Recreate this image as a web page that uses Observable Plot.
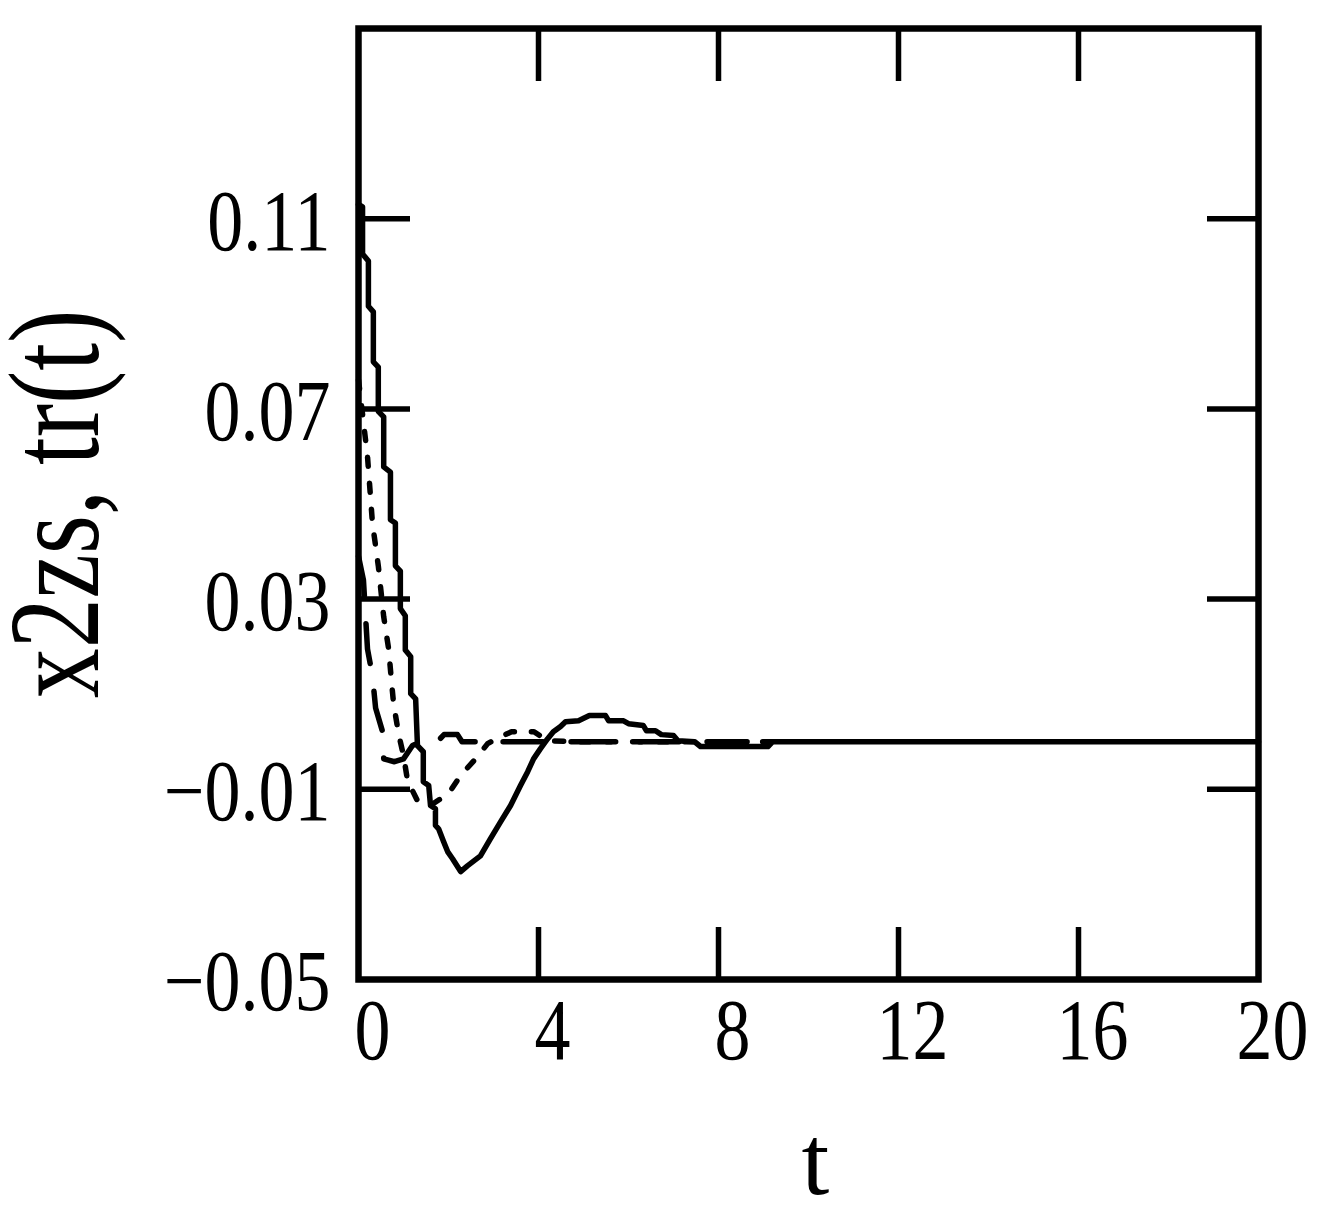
<!DOCTYPE html>
<html>
<head>
<meta charset="utf-8">
<script src="https://cdn.jsdelivr.net/npm/d3@7"></script>
<script src="https://cdn.jsdelivr.net/npm/@observablehq/plot@0.6"></script>
<style>
  html, body { margin: 0; padding: 0; background: white; }
</style>
</head>
<body>
<div id="chart"></div>
<script>
// Solid curve x2zs(t): vertices
const solidT = [0.00, 0.09, 0.09, 0.22, 0.22, 0.33, 0.33, 0.44, 0.44, 0.56, 0.56, 0.71, 0.71, 0.82, 0.82, 0.93, 0.93, 1.04, 1.04, 1.16, 1.16, 1.27, 1.31, 1.44, 1.44, 1.56, 1.60, 1.71, 1.71, 1.78, 1.89, 1.98, 2.09, 2.27, 2.42, 2.71, 2.93, 3.16, 3.38, 3.60, 3.76, 3.89, 4.04, 4.20, 4.33, 4.49, 4.60, 4.89, 5.13, 5.49, 5.56, 5.89, 6.00, 6.33, 6.40, 6.60, 6.73, 7.00, 7.10, 7.47, 7.60, 9.10, 9.20, 20.0];
const solidV = [0.1130, 0.1125, 0.1026, 0.1011, 0.0916, 0.0904, 0.0799, 0.0788, 0.0695, 0.0683, 0.0578, 0.0567, 0.0467, 0.0460, 0.0370, 0.0359, 0.0280, 0.0265, 0.0193, 0.0179, 0.0101, 0.0090, -0.0008, -0.0021, -0.0084, -0.0092, -0.0134, -0.0141, -0.0176, -0.0183, -0.0210, -0.0231, -0.0246, -0.0273, -0.0261, -0.0240, -0.0204, -0.0168, -0.0134, -0.0092, -0.0063, -0.0036, -0.0015, 0.0006, 0.0021, 0.0032, 0.0042, 0.0044, 0.0055, 0.0055, 0.0044, 0.0044, 0.0038, 0.0034, 0.0023, 0.0023, 0.0015, 0.0013, 0.0002, 0.0000, -0.0010, -0.0010, 0.0000, 0.0000];

// Short-dashed curve
const dotT = [0.00, 0.20, 0.31, 0.44, 0.56, 0.67, 0.73, 0.78, 0.89, 1.00, 1.09, 1.31, 1.60, 2.00, 2.27, 2.60, 2.87, 3.10, 3.40, 3.90, 4.20, 5.00, 9.20];
const dotV = [0.0761, 0.0600, 0.0460, 0.0370, 0.0263, 0.0195, 0.0130, 0.0080, 0.0017, -0.0029, -0.0082, -0.0124, -0.0134, -0.0109, -0.0071, -0.0036, -0.0004, 0.0008, 0.0021, 0.0021, 0.0002, 0.0000, 0.0000];

// Long-dashed curve
const dashT = [0.00, 0.11, 0.20, 0.31, 0.38, 0.56, 0.56, 0.80, 1.00, 1.20, 1.40, 1.75, 1.90, 2.20, 2.30, 9.20];
const dashV = [0.0390, 0.0340, 0.0195, 0.0139, 0.0071, 0.0013, -0.0036, -0.0042, -0.0036, -0.0008, 0.0000, 0.0000, 0.0015, 0.0015, 0.0000, 0.0000];

// Axes
const xTickLabels = [0, 4, 8, 12, 16, 20];
const xInnerTicks = [4, 8, 12, 16];
const yTickLabels = [-0.05, -0.01, 0.03, 0.07, 0.11];
const yInnerTicks = [-0.01, 0.03, 0.07, 0.11];
const xTitle = "t";
const yTitle = "x2zs, tr(t)";

const solid = solidT.map((t, i) => ({t, v: solidV[i]}));
const dotted = dotT.map((t, i) => ({t, v: dotV[i]}));
const dashed = dashT.map((t, i) => ({t, v: dashV[i]}));

const font = "'Liberation Serif', 'Times New Roman', serif";

const chart = Plot.plot({
  width: 1327,
  height: 1220,
  marginLeft: 358,
  marginRight: 69,
  marginTop: 28,
  marginBottom: 241,
  x: {domain: [0, 20], label: null},
  y: {domain: [-0.05, 0.15], label: null},
  style: {fontFamily: font, fontSize: "72px", color: "black", background: "white"},
  marks: [
    Plot.line(dashed, {x: "t", y: "v", stroke: "black", strokeWidth: 5.5, strokeDasharray: "40,28", strokeLinecap: "round"}),
    Plot.line(dotted, {x: "t", y: "v", stroke: "black", strokeWidth: 5.5, strokeDasharray: "9,17", strokeLinecap: "round"}),
    Plot.line(solid, {x: "t", y: "v", stroke: "black", strokeWidth: 5.5}),
    Plot.frame({stroke: "black", strokeWidth: 6.5}),
    // inward ticks
    Plot.axisX(xInnerTicks, {anchor: "bottom", tickSize: -52, strokeWidth: 5.5, fill: "none", label: null}),
    Plot.axisX(xInnerTicks, {anchor: "top", tickSize: -52, strokeWidth: 5.5, fill: "none", label: null}),
    Plot.axisY(yInnerTicks, {anchor: "left", tickSize: -52, strokeWidth: 5.5, fill: "none", label: null}),
    Plot.axisY(yInnerTicks, {anchor: "right", tickSize: -52, strokeWidth: 5.5, fill: "none", label: null}),
    // labels
    Plot.axisX(xTickLabels, {anchor: "bottom", tickSize: 0, tickPadding: 24, stroke: "none", label: null, dx: 14, fontSize: 72, tickFormat: d => String(d)}),
    Plot.axisY(yTickLabels, {anchor: "left", tickSize: 0, tickPadding: 28, stroke: "none", label: null, dy: 3, fontSize: 72, tickFormat: d3.format(".2f")}),
    Plot.text([yTitle], {frameAnchor: "left", textAnchor: "middle", dx: -303, rotate: -90, fontSize: 100, fontFamily: font, fill: "black"}),
    Plot.text([xTitle], {frameAnchor: "bottom", textAnchor: "middle", dx: 7, dy: 214, fontSize: 100, fontFamily: font, fill: "black"})
  ]
});
document.getElementById("chart").appendChild(chart);

// The reference glyphs are drawn taller than wide: stretch each text about its own centre,
// through a wrapper group so that Plot's own positioning is left untouched.
function stretch(nodes, sx, sy) {
  nodes.forEach(t => {
    const g = document.createElementNS("http://www.w3.org/2000/svg", "g");
    t.parentNode.insertBefore(g, t);
    g.appendChild(t);
    const bb = g.getBBox();
    if (!bb || !isFinite(bb.x)) return;
    const cx = bb.x + bb.width / 2, cy = bb.y + bb.height / 2;
    g.setAttribute("transform", `translate(${cx},${cy}) scale(${sx},${sy}) translate(${-cx},${-cy})`);
  });
}
stretch(Array.from(chart.querySelectorAll('g[aria-label="x-axis tick label"] text, g[aria-label="y-axis tick label"] text')), 1, 1.2);
stretch(Array.from(chart.querySelectorAll("text")).filter(t => t.textContent === yTitle), 1.3, 1);
</script>
</body>
</html>
